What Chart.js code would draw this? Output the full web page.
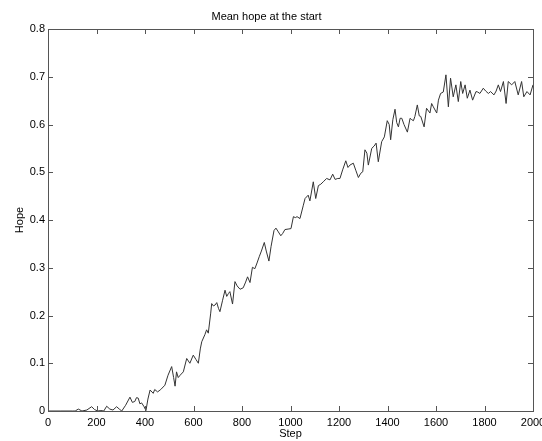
<!DOCTYPE html>
<html>
<head>
<meta charset="utf-8">
<script src="https://cdn.jsdelivr.net/npm/chart.js@4/dist/chart.umd.min.js"></script>
<style>
html,body{margin:0;padding:0;background:#fff;}
#c{display:block;}
</style>
</head>
<body>
<canvas id="c" width="542" height="441"></canvas>
<script>
const steps = [0,50,100,112,125,140,160,180,192,205,218,230,242,255,268,283,294,304,320,338,348,358,365,372,379,386,395,404,412,421,434,440,452,465,482,495,510,518,524,530,537,545,558,572,585,599,610,620,628,634,647,654,661,671,675,682,689,696,703,709,720,730,737,744,750,761,771,780,792,805,815,823,833,843,853,862,871,880,892,900,911,920,932,940,950,960,968,977,990,1002,1012,1020,1027,1039,1053,1060,1073,1080,1094,1104,1115,1125,1135,1149,1163,1174,1184,1195,1204,1215,1228,1237,1245,1259,1270,1280,1290,1298,1307,1315,1321,1335,1345,1353,1362,1376,1387,1399,1407,1413,1422,1431,1438,1445,1452,1459,1468,1482,1493,1500,1507,1513,1523,1531,1537,1551,1561,1575,1582,1589,1603,1610,1619,1630,1641,1651,1660,1671,1682,1692,1702,1710,1720,1729,1740,1751,1765,1772,1781,1795,1805,1816,1825,1839,1848,1857,1866,1878,1889,1898,1912,1925,1939,1953,1962,1975,1988,2000];
const hope = [0,0,0,0,0.004,0.0,0.002,0.009,0.003,0.0,0.001,0.0,0.010,0.004,0.002,0.009,0.004,0.0,0.012,0.029,0.018,0.020,0.028,0.027,0.015,0.017,0.010,0.001,0.025,0.044,0.037,0.045,0.040,0.045,0.054,0.075,0.093,0.070,0.052,0.082,0.070,0.075,0.082,0.110,0.100,0.117,0.108,0.100,0.130,0.145,0.160,0.170,0.163,0.205,0.225,0.220,0.222,0.227,0.215,0.208,0.232,0.253,0.240,0.246,0.250,0.224,0.271,0.262,0.255,0.258,0.270,0.281,0.269,0.301,0.298,0.310,0.323,0.335,0.353,0.335,0.314,0.345,0.378,0.383,0.375,0.367,0.372,0.380,0.381,0.382,0.407,0.405,0.407,0.403,0.431,0.445,0.452,0.440,0.480,0.445,0.472,0.475,0.480,0.487,0.484,0.496,0.485,0.487,0.487,0.505,0.524,0.510,0.515,0.519,0.503,0.489,0.498,0.501,0.547,0.540,0.515,0.550,0.555,0.561,0.522,0.564,0.574,0.608,0.600,0.568,0.610,0.632,0.604,0.595,0.613,0.613,0.600,0.584,0.613,0.610,0.608,0.617,0.641,0.618,0.617,0.595,0.634,0.624,0.644,0.637,0.624,0.651,0.665,0.668,0.704,0.637,0.697,0.658,0.683,0.648,0.690,0.665,0.683,0.655,0.672,0.651,0.669,0.668,0.665,0.676,0.670,0.665,0.669,0.662,0.670,0.683,0.669,0.690,0.644,0.690,0.683,0.690,0.662,0.690,0.658,0.669,0.662,0.683];
const xTickLabels = ['0','200','400','600','800','1000','1200','1400','1600','1800','2000'];
const yTickLabels = ['0','0.1','0.2','0.3','0.4','0.5','0.6','0.7','0.8'];
const titleText = 'Mean hope at the start';
const xTitle = 'Step';
const yTitle = 'Hope';

const FONT = 'Arial, "Liberation Sans", sans-serif';
const AXIS_COLOR = '#555';

const boxTicks = {
  id: 'boxTicks',
  afterDraw(chart) {
    const {ctx, chartArea: a, scales: {x, y}} = chart;
    const L = 5;
    ctx.save();
    ctx.strokeStyle = AXIS_COLOR;
    ctx.lineWidth = 1;
    ctx.beginPath();
    x.ticks.forEach(t => {
      const px = Math.round(x.getPixelForValue(t.value)) + 0.5;
      ctx.moveTo(px, a.bottom); ctx.lineTo(px, a.bottom - L);
      ctx.moveTo(px, a.top); ctx.lineTo(px, a.top + L);
    });
    y.ticks.forEach(t => {
      const py = Math.round(y.getPixelForValue(t.value)) + 0.5;
      ctx.moveTo(a.left, py); ctx.lineTo(a.left + L, py);
      ctx.moveTo(a.right, py); ctx.lineTo(a.right - L, py);
    });
    ctx.stroke();
    ctx.strokeRect(Math.round(a.left) + 0.5, Math.round(a.top) + 0.5,
                   Math.round(a.right) - Math.round(a.left), Math.round(a.bottom) - Math.round(a.top));
    ctx.restore();
  }
};

new Chart(document.getElementById('c'), {
  type: 'line',
  data: {
    datasets: [{
      data: steps.map((s, i) => ({x: s, y: hope[i]})),
      borderColor: '#333',
      borderWidth: 1,
      pointRadius: 0,
      tension: 0,
      fill: false
    }]
  },
  options: {
    responsive: false,
    animation: false,
    devicePixelRatio: 1,
    layout: {padding: {top: 0, right: 9, left: 0, bottom: 0}},
    plugins: {
      legend: {display: false},
      tooltip: {enabled: false},
      title: {
        display: true,
        text: titleText,
        color: '#000',
        font: {family: FONT, size: 11, weight: 'normal'},
        padding: {top: 10, bottom: 5.8}
      }
    },
    scales: {
      x: {
        type: 'linear',
        min: 0, max: 2000,
        grid: {display: false, drawTicks: false},
        border: {display: false},
        ticks: {
          stepSize: 200,
          color: '#000',
          font: {family: FONT, size: 11},
          padding: 5,
          maxRotation: 0,
          autoSkip: false,
          callback: (v, i) => xTickLabels[i]
        },
        title: {
          display: true, text: xTitle, color: '#000',
          font: {family: FONT, size: 11},
          padding: {top: 0, bottom: 0}
        },
        afterFit: s => { s.height = 30; s.paddingLeft = 0; s.paddingRight = 0; }
      },
      y: {
        min: 0, max: 0.8,
        grid: {display: false, drawTicks: false},
        border: {display: false},
        ticks: {
          stepSize: 0.1,
          color: '#000',
          font: {family: FONT, size: 11},
          padding: 3,
          autoSkip: false,
          callback: (v, i) => yTickLabels[i]
        },
        title: {
          display: true, text: yTitle, color: '#000',
          font: {family: FONT, size: 11},
          padding: {top: 13, bottom: 0}
        },
        afterFit: s => { s.width = 48; s.paddingTop = 0; s.paddingBottom = 0; }
      }
    }
  },
  plugins: [boxTicks]
});
</script>
</body>
</html>
